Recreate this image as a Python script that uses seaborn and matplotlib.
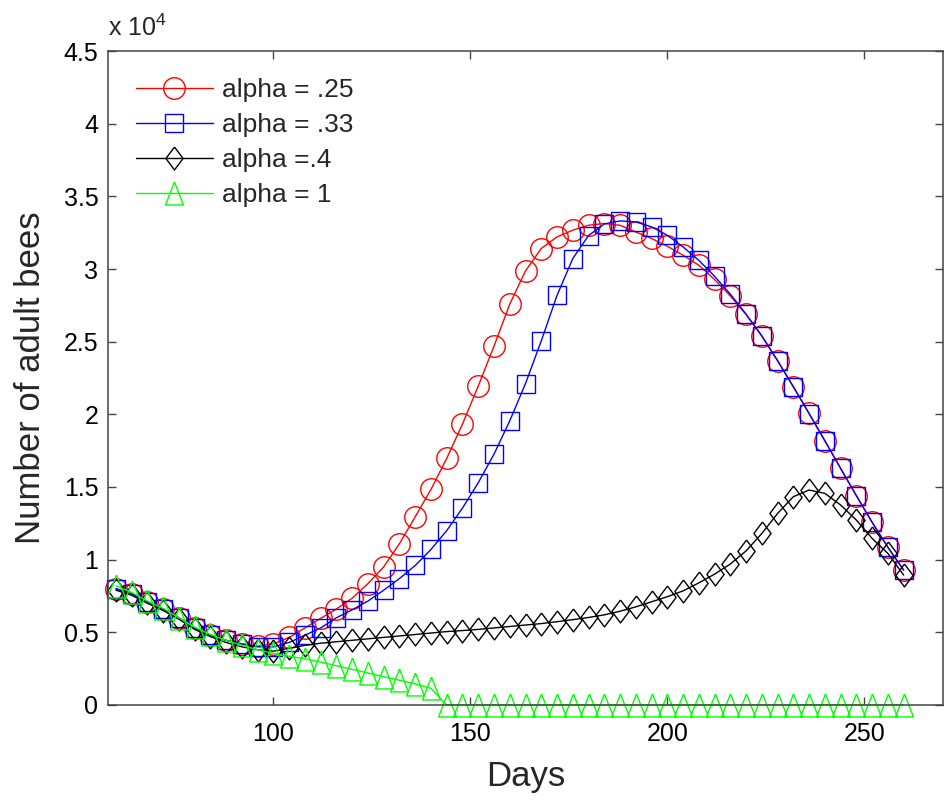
import numpy as np
import pandas as pd
import matplotlib
matplotlib.use("Agg")
import matplotlib.pyplot as plt
import seaborn as sns

# days on the x axis (one marker every 4 days)
days = [60, 64, 68, 72, 76, 80, 84, 88, 92, 96, 100, 104, 108, 112, 116, 120, 124,
        128, 132, 136, 140, 144, 148, 152, 156, 160, 164, 168, 172, 176, 180, 184,
        188, 192, 196, 200, 204, 208, 212, 216, 220, 224, 228, 232, 236, 240, 244,
        248, 252, 256, 260]

# number of adult bees, in units of 10^4 (as on the y axis)
bees_a25 = [0.80, 0.765, 0.71, 0.66, 0.60, 0.53, 0.48, 0.445, 0.42, 0.405, 0.42, 0.465,
            0.53, 0.596, 0.66, 0.735, 0.835, 0.95, 1.11, 1.295, 1.483, 1.697, 1.933,
            2.194, 2.469, 2.758, 2.987, 3.141, 3.221, 3.267, 3.301, 3.313, 3.301, 3.255,
            3.21, 3.157, 3.095, 3.026, 2.928, 2.815, 2.687, 2.538, 2.368, 2.189, 2.006,
            1.818, 1.628, 1.44, 1.257, 1.085, 0.928]
bees_a33 = [0.80, 0.765, 0.71, 0.66, 0.60, 0.53, 0.48, 0.445, 0.42, 0.40, 0.40, 0.43,
            0.48, 0.53, 0.60, 0.655, 0.715, 0.79, 0.87, 0.96, 1.07, 1.20, 1.355, 1.529,
            1.726, 1.955, 2.212, 2.505, 2.818, 3.072, 3.23, 3.31, 3.331, 3.324, 3.29,
            3.232, 3.152, 3.06, 2.95, 2.827, 2.689, 2.54, 2.37, 2.19, 2.005, 1.818,
            1.628, 1.44, 1.257, 1.085, 0.928]
bees_a40 = [0.79, 0.755, 0.70, 0.65, 0.59, 0.52, 0.47, 0.43, 0.40, 0.38, 0.37, 0.39,
            0.41, 0.425, 0.435, 0.445, 0.455, 0.465, 0.475, 0.485, 0.495, 0.505, 0.512,
            0.52, 0.53, 0.54, 0.55, 0.56, 0.573, 0.587, 0.602, 0.62, 0.645, 0.675, 0.71,
            0.745, 0.785, 0.84, 0.90, 0.97, 1.06, 1.18, 1.318, 1.433, 1.479, 1.456,
            1.376, 1.272, 1.146, 1.043, 0.894]
bees_a1 = [0.82, 0.775, 0.715, 0.665, 0.60, 0.535, 0.485, 0.445, 0.41, 0.38, 0.355,
           0.335, 0.318, 0.295, 0.27, 0.245, 0.22, 0.195, 0.17, 0.145, 0.115, 0, 0, 0,
           0, 0, 0, 0, 0, 0, 0, 0, 0, 0, 0, 0, 0, 0, 0, 0, 0, 0, 0, 0, 0, 0, 0, 0, 0,
           0, 0]

labels = ["alpha = .25", "alpha = .33", "alpha =.4", "alpha = 1"]

df = pd.DataFrame({"Days": days, labels[0]: bees_a25, labels[1]: bees_a33,
                   labels[2]: bees_a40, labels[3]: bees_a1})
long = df.melt(id_vars="Days", var_name="series", value_name="bees")

sns.set_theme(style="white")
plt.rcParams["font.family"] = ["Liberation Sans", "DejaVu Sans"]
plt.rcParams["mathtext.default"] = "regular"

# matlab-ish markers
diamond = [(0, 1), (0.75, 0), (0, -1), (-0.75, 0), (0, 1)]
triangle = [(0, 1), (-0.78, -1), (0.78, -1), (0, 1)]
styles = {
    labels[0]: dict(color="#ff0000", marker="o", markersize=15.5),
    labels[1]: dict(color="#0000ff", marker="s", markersize=13),
    labels[2]: dict(color="#000000", marker=diamond, markersize=16.5),
    labels[3]: dict(color="#00ff00", marker=triangle, markersize=16.5),
}

fig = plt.figure(figsize=(9.49, 8.01), dpi=100)
ax = fig.add_axes([0.1138, 0.1199, 0.8799, 0.8164])

for lab in labels:
    st = styles[lab]
    sub = long[long["series"] == lab]
    sns.lineplot(data=sub, x="Days", y="bees", ax=ax, label=lab,
                 color=st["color"], marker=st["marker"], markersize=st["markersize"],
                 markerfacecolor="none", markeredgecolor=st["color"],
                 markeredgewidth=1.0, linewidth=1.0, clip_on=False)

ax.set_xlim(58, 270)
ax.set_ylim(0, 4.5)
ax.set_xticks([100, 150, 200, 250])
ax.set_yticks([0, 0.5, 1, 1.5, 2, 2.5, 3, 3.5, 4, 4.5])
ax.set_yticklabels(["0", "0.5", "1", "1.5", "2", "2.5", "3", "3.5", "4", "4.5"])

ax.set_xlabel("Days", fontsize=25, labelpad=10)
ax.set_ylabel("Number of adult bees", fontsize=25, labelpad=12)

for s in ax.spines.values():
    s.set_visible(True)
    s.set_color("#444444")
    s.set_linewidth(1.1)
ax.tick_params(axis="both", direction="in", length=6, width=1.0, color="#444444",
               labelsize=18, labelcolor="black", top=True, right=True,
               bottom=True, left=True)
ax.tick_params(axis="x", pad=12)
ax.tick_params(axis="y", pad=7)

ax.text(0.0, 1.016, "x 10$^{4}$", transform=ax.transAxes, ha="left",
        va="bottom", fontsize=18)

leg = ax.legend(loc="upper left", bbox_to_anchor=(0.021, 0.975), frameon=False,
                fontsize=19, handlelength=2.9, handletextpad=0.35,
                labelspacing=0.42, borderaxespad=0.0, numpoints=1)

fig.savefig("out.png", dpi=100)
